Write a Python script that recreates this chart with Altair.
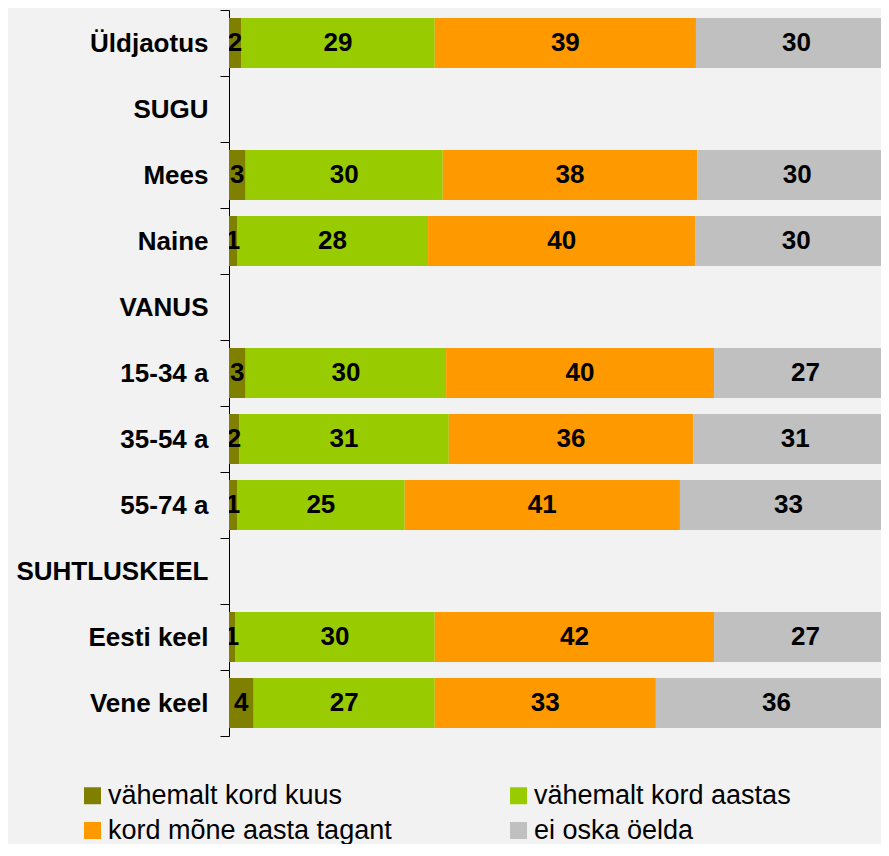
import altair as alt
import pandas as pd

rows = ["Üldjaotus", "SUGU", "Mees", "Naine", "VANUS", "15-34 a", "35-54 a",
        "55-74 a", "SUHTLUSKEEL", "Eesti keel", "Vene keel"]
bar_rows = ["Üldjaotus", "Mees", "Naine", "15-34 a", "35-54 a", "55-74 a",
            "Eesti keel", "Vene keel"]
categories = ["vähemalt kord kuus", "vähemalt kord aastas",
              "kord mõne aasta tagant", "ei oska öelda"]
colors = ["#808000", "#99CC00", "#FF9900", "#C0C0C0"]

# bar lengths
monthly = [1.8, 2.5, 1.2, 2.5, 1.5, 1.2, 0.9, 3.7]
yearly = [29.0, 29.5, 28.6, 30.0, 31.4, 25.1, 29.9, 27.1]
few_years = [39.1, 38.1, 40.0, 40.1, 36.6, 41.2, 41.8, 33.1]
dont_know = [30.1, 29.9, 30.2, 27.4, 30.5, 32.5, 27.4, 36.1]

# printed labels
lab_monthly = [2, 3, 1, 3, 2, 1, 1, 4]
lab_yearly = [29, 30, 28, 30, 31, 25, 30, 27]
lab_few_years = [39, 38, 40, 40, 36, 41, 42, 33]
lab_dont_know = [30, 30, 30, 27, 31, 33, 27, 36]

series = [monthly, yearly, few_years, dont_know]
labels = [lab_monthly, lab_yearly, lab_few_years, lab_dont_know]

recs = []
for ci, cat in enumerate(categories):
    for ri, r in enumerate(bar_rows):
        recs.append({"row": r, "cat": cat, "order": ci,
                     "value": series[ci][ri], "label": str(labels[ci][ri])})
df = pd.DataFrame(recs)

FONT = "Liberation Sans"

base = alt.Chart(df).transform_stack(
    stack="value", groupby=["row"], sort=[alt.SortField("order")], as_=["x0", "x1"]
).transform_calculate(mid="(datum.x0 + datum.x1) / 2")

xscale = alt.Scale(domain=[0, 97.6], nice=False, zero=False)
yscale = alt.Scale(domain=rows, paddingInner=0, paddingOuter=0)

yaxis = alt.Axis(title=None, domainColor="#000000", tickColor="#000000",
                 tickSize=9, tickBand="extent", labelFont=FONT, labelFontSize=26,
                 labelFontWeight="bold", labelColor="#000000", labelPadding=12,
                 labelLimit=400)

bars = base.mark_bar(size=50, clip=True).encode(
    x=alt.X("x0:Q", scale=xscale, axis=None),
    x2="x1:Q",
    y=alt.Y("row:N", sort=rows, scale=yscale, axis=yaxis),
    color=alt.Color("cat:N", scale=alt.Scale(domain=categories, range=colors),
                    legend=alt.Legend(title=None, orient="none", legendX=-150,
                                      legendY=772, columns=2, direction="horizontal",
                                      columnPadding=113,
                                      rowPadding=7, padding=0,
                                      symbolType="square", symbolSize=289,
                                      symbolStrokeWidth=0, labelFont=FONT,
                                      labelFontSize=27, labelColor="#000000",
                                      labelOffset=2, labelLimit=400)),
)

text = base.mark_text(font=FONT, fontSize=26, fontWeight="bold",
                      color="#000000", clip=True).encode(
    x=alt.X("mid:Q", scale=xscale, axis=None),
    y=alt.Y("row:N", sort=rows, scale=yscale, axis=yaxis),
    text="label:N",
)

chart = alt.layer(bars, text).properties(
    width=652, height=726,
    padding={"left": 221, "top": 2, "right": 0, "bottom": 108},
    autosize=alt.AutoSizeParams(type="none"),
    background="#F2F2F2",
).configure_view(stroke=None)

chart.save("out.html", embed_options={"renderer": "svg", "actions": False})
